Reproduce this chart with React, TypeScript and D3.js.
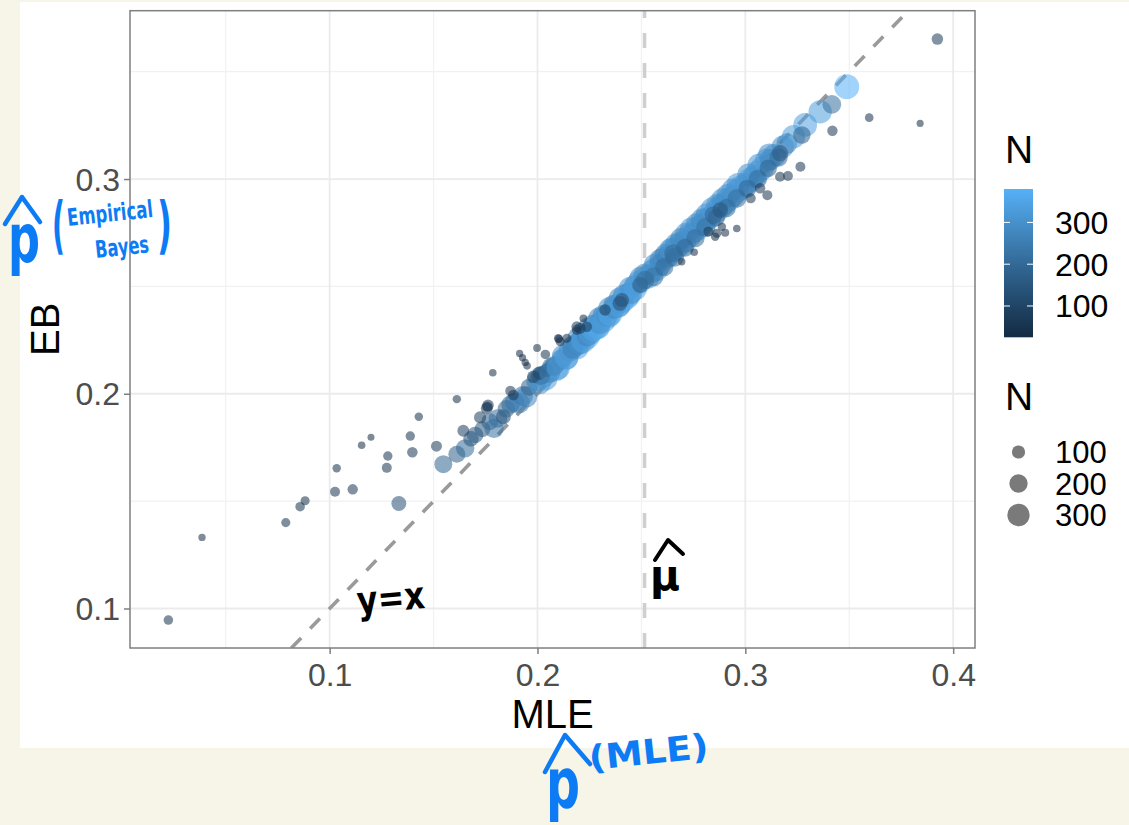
import React, { useEffect, useRef } from 'react';
import * as d3 from 'd3';

const W = 1129;
const H = 825;

// [MLE, EB, N]
// the thick blue band of well-sampled players
const bandPoints: [number, number, number][] = [
  [0.1547, 0.1672, 190], [0.1612, 0.1718, 170], [0.1652, 0.1746, 200], [0.1680, 0.1790, 140],
  [0.1700, 0.1808, 160], [0.1735, 0.1835, 150], [0.1770, 0.1870, 170], [0.1791, 0.1839, 220],
  [0.1810, 0.1885, 210], [0.1836, 0.1893, 130], [0.1850, 0.1930, 180], [0.1870, 0.1950, 200],
  [0.1890, 0.1960, 230], [0.1913, 0.1958, 260], [0.1930, 0.1990, 240], [0.1948, 0.1986, 270],
  [0.1960, 0.2030, 170], [0.1995, 0.2060, 250], [0.2010, 0.2050, 300], [0.2030, 0.2080, 280],
  [0.2040, 0.2070, 330], [0.2090, 0.2115, 350], [0.2140, 0.2165, 320], [0.2190, 0.2215, 340],
  [0.2240, 0.2265, 360], [0.2290, 0.2312, 330], [0.2340, 0.2362, 350], [0.2390, 0.2410, 330],
  [0.2440, 0.2462, 340],
  [0.2015, 0.2085, 220], [0.2065, 0.2125, 200], [0.2115, 0.2160, 240], [0.2165, 0.2225, 210],
  [0.2215, 0.2270, 230], [0.2265, 0.2320, 250], [0.2315, 0.2365, 260], [0.2365, 0.2415, 240],
  [0.2415, 0.2460, 270], [0.2465, 0.2505, 250],
  [0.2195, 0.2262, 260], [0.2245, 0.2305, 280], [0.2295, 0.2352, 270], [0.2345, 0.2398, 290],
  [0.2395, 0.2445, 280], [0.2445, 0.2492, 300], [0.2495, 0.2540, 290],
  [0.1980, 0.2079, 90], [0.2009, 0.2095, 100], [0.2045, 0.2110, 110],
  [0.2060, 0.2100, 260], [0.2080, 0.2130, 230], [0.2100, 0.2120, 330], [0.2122, 0.2176, 290],
  [0.2140, 0.2170, 340], [0.2157, 0.2204, 310], [0.2170, 0.2210, 260], [0.2190, 0.2230, 280],
  [0.2205, 0.2235, 300], [0.2220, 0.2245, 340], [0.2240, 0.2270, 270], [0.2253, 0.2281, 320],
  [0.2270, 0.2300, 350], [0.2290, 0.2310, 360], [0.2300, 0.2330, 290], [0.2320, 0.2340, 330],
  [0.2335, 0.2365, 300], [0.2350, 0.2370, 350], [0.2370, 0.2400, 280], [0.2390, 0.2410, 340],
  [0.2410, 0.2430, 320], [0.2430, 0.2450, 360], [0.2450, 0.2470, 300], [0.2470, 0.2490, 340],
  [0.2490, 0.2520, 330], [0.2530, 0.2545, 350], [0.2550, 0.2570, 310], [0.2570, 0.2580, 360],
  [0.2590, 0.2600, 290], [0.2610, 0.2630, 340], [0.2630, 0.2640, 300], [0.2650, 0.2670, 350],
  [0.2670, 0.2680, 320], [0.2690, 0.2700, 360], [0.2710, 0.2710, 300], [0.2730, 0.2735, 340],
  [0.2750, 0.2750, 280], [0.2770, 0.2770, 360], [0.2790, 0.2785, 310], [0.2810, 0.2810, 350],
  [0.2830, 0.2820, 300], [0.2860, 0.2850, 340], [0.2880, 0.2870, 360], [0.2900, 0.2885, 320],
  [0.2920, 0.2905, 350], [0.2940, 0.2920, 300], [0.2960, 0.2945, 340], [0.2980, 0.2960, 370],
  [0.3000, 0.2975, 320], [0.3023, 0.2995, 380], [0.3040, 0.3010, 300], [0.3060, 0.3030, 350],
  [0.3080, 0.3050, 340], [0.3103, 0.3088, 330], [0.3120, 0.3090, 270], [0.3140, 0.3110, 310],
  [0.3180, 0.3150, 300], [0.3200, 0.3165, 260], [0.3232, 0.3197, 330], [0.3288, 0.3252, 340],
  [0.3360, 0.3313, 330], [0.3416, 0.3348, 210], [0.3488, 0.3430, 380],
  [0.2515, 0.2555, 280], [0.2565, 0.2600, 300], [0.2615, 0.2650, 260], [0.2665, 0.2695, 290],
  [0.2715, 0.2745, 300], [0.2765, 0.2790, 280], [0.2815, 0.2835, 310], [0.2865, 0.2880, 290],
  [0.2915, 0.2925, 300], [0.2965, 0.2975, 320], [0.3015, 0.3020, 300], [0.3065, 0.3065, 310],
  [0.3115, 0.3115, 290],
  [0.2590, 0.2625, 270], [0.2640, 0.2672, 300], [0.2690, 0.2722, 280], [0.2740, 0.2768, 310],
  [0.2790, 0.2812, 290], [0.2840, 0.2860, 320], [0.2890, 0.2905, 300], [0.2940, 0.2950, 310],
  [0.2560, 0.2545, 220], [0.2610, 0.2590, 200], [0.2660, 0.2635, 210], [0.2710, 0.2680, 190],
  [0.2760, 0.2725, 200], [0.2810, 0.2775, 220], [0.2860, 0.2820, 180], [0.2910, 0.2865, 200],
  [0.2960, 0.2910, 210], [0.3010, 0.2955, 190], [0.3060, 0.3000, 200], [0.3110, 0.3050, 180],
  [0.3160, 0.3100, 200],
  [0.2406, 0.2436, 120], [0.2397, 0.2421, 130], [0.2494, 0.2506, 150], [0.2518, 0.2530, 200],
  [0.2654, 0.2654, 200], [0.2847, 0.2832, 190], [0.2879, 0.2856, 140], [0.3167, 0.3120, 160],
  [0.3272, 0.3205, 180],
];

// low-N players pulled toward the mean, just off the band
const shrunkPoints: [number, number, number][] = [
  [0.1785, 0.2098, 30], [0.1998, 0.2213, 32], [0.2038, 0.2183, 50], [0.1914, 0.2188, 27],
  [0.1928, 0.2168, 27], [0.1941, 0.2146, 28], [0.1950, 0.2130, 30], [0.2103, 0.2255, 38],
  [0.1870, 0.2013, 60], [0.1884, 0.1994, 65], [0.1762, 0.1946, 75], [0.1756, 0.1932, 80],
  [0.1724, 0.1890, 85], [0.1643, 0.1828, 80], [0.1759, 0.1940, 60], [0.2141, 0.2258, 45],
  [0.2189, 0.2297, 55], [0.2237, 0.2312, 60], [0.2100, 0.2258, 40], [0.2109, 0.2242, 45],
  [0.2221, 0.2351, 32], [0.2189, 0.2312, 65], [0.2205, 0.2305, 70], [0.2325, 0.2390, 75],
  [0.2754, 0.2659, 30], [0.2694, 0.2615, 28], [0.2887, 0.2778, 38], [0.2903, 0.2750, 35],
  [0.2855, 0.2731, 38], [0.2863, 0.2747, 45], [0.2959, 0.2770, 30], [0.2822, 0.2755, 55],
  [0.3106, 0.2925, 55], [0.3026, 0.2910, 55], [0.3071, 0.2957, 60], [0.3167, 0.3011, 55],
  [0.3205, 0.3014, 55], [0.3265, 0.3057, 55], [0.3419, 0.3225, 60],
];

// the scattered players far from the band
const farPoints: [number, number, number][] = [
  [0.0224, 0.0946, 50], [0.0386, 0.1331, 28], [0.0789, 0.1400, 45], [0.0858, 0.1474, 50],
  [0.0882, 0.1502, 45], [0.1026, 0.1544, 55], [0.1034, 0.1653, 38], [0.1111, 0.1555, 60],
  [0.1154, 0.1760, 30], [0.1199, 0.1797, 25], [0.1275, 0.1655, 55], [0.1280, 0.1710, 48],
  [0.1333, 0.1489, 130], [0.1388, 0.1803, 48], [0.1398, 0.1728, 62], [0.1429, 0.1893, 38],
  [0.1514, 0.1756, 68], [0.1612, 0.1975, 38], [0.3596, 0.3286, 40], [0.3841, 0.3259, 26],
  [0.3924, 0.3652, 75],
];

const xTicks = [0.1, 0.2, 0.3, 0.4];
const yTicks = [0.1, 0.2, 0.3];
const xMinor = [0.05, 0.15, 0.25, 0.35];
const yMinor = [0.15, 0.25, 0.35];
const legendTicks = [100, 200, 300];
const nRange = [25, 380];
const muHat = 0.2515;

const FONT = '"Liberation Sans", Arial, Helvetica, sans-serif';
const HAND = '"DejaVu Sans Condensed", "DejaVu Sans", sans-serif';

export default function App() {
  const ref = useRef<SVGSVGElement>(null);

  useEffect(() => {
    const svg = d3.select(ref.current);
    svg.selectAll('*').remove();

    const left = 130, right = 975, top = 10.7, bottom = 648;
    const x = d3.scaleLinear().domain([0.00395, 0.4105]).range([left, right]);
    const y = d3.scaleLinear().domain([0.0816, 0.3784]).range([bottom, top]);
    const colour = d3.scaleLinear<string>().domain(nRange).range(['#132B43', '#56B1F7']).interpolate(d3.interpolateLab);
    const size = d3.scaleSqrt().domain(nRange).range([3.5, 12.5]);

    // page background and the white sheet
    svg.append('rect').attr('width', W).attr('height', H).attr('fill', '#f7f4e8');
    svg.append('rect').attr('x', 20).attr('y', 2).attr('width', W - 20).attr('height', 746).attr('fill', '#fff');

    const defs = svg.append('defs');
    defs.append('clipPath').attr('id', 'panel')
      .append('rect').attr('x', left).attr('y', top).attr('width', right - left).attr('height', bottom - top);

    // grid
    const grid = svg.append('g');
    grid.selectAll('.xm').data(xMinor).enter().append('line')
      .attr('x1', d => x(d)).attr('x2', d => x(d)).attr('y1', top).attr('y2', bottom)
      .attr('stroke', '#f1f1f1').attr('stroke-width', 1.2);
    grid.selectAll('.ym').data(yMinor).enter().append('line')
      .attr('y1', d => y(d)).attr('y2', d => y(d)).attr('x1', left).attr('x2', right)
      .attr('stroke', '#f1f1f1').attr('stroke-width', 1.2);
    grid.selectAll('.xM').data(xTicks).enter().append('line')
      .attr('x1', d => x(d)).attr('x2', d => x(d)).attr('y1', top).attr('y2', bottom)
      .attr('stroke', '#ebebeb').attr('stroke-width', 1.8);
    grid.selectAll('.yM').data(yTicks).enter().append('line')
      .attr('y1', d => y(d)).attr('y2', d => y(d)).attr('x1', left).attr('x2', right)
      .attr('stroke', '#ebebeb').attr('stroke-width', 1.8);

    const plot = svg.append('g').attr('clip-path', 'url(#panel)');

    // mu-hat and y = x reference lines
    plot.append('line')
      .attr('x1', x(muHat)).attr('x2', x(muHat)).attr('y1', bottom).attr('y2', top)
      .attr('stroke', '#cfcfcf').attr('stroke-width', 3.6).attr('stroke-dasharray', '15 15');
    plot.append('line')
      .attr('x1', x(0.0816)).attr('y1', y(0.0816)).attr('x2', x(0.3784)).attr('y2', y(0.3784))
      .attr('stroke', '#9a9a9a').attr('stroke-width', 3.6).attr('stroke-dasharray', '14 13');

    const allPoints = [...bandPoints, ...shrunkPoints, ...farPoints];
    plot.selectAll('circle.pt').data(allPoints).enter().append('circle')
      .attr('class', 'pt')
      .attr('cx', d => x(d[0])).attr('cy', d => y(d[1])).attr('r', d => size(d[2]))
      .attr('fill', d => colour(d[2])).attr('fill-opacity', 0.55);

    // panel border
    svg.append('rect').attr('x', left).attr('y', top).attr('width', right - left).attr('height', bottom - top)
      .attr('fill', 'none').attr('stroke', '#7f7f7f').attr('stroke-width', 1.5);

    // axes
    const xAxis = svg.append('g').attr('transform', `translate(0,${bottom})`)
      .call(d3.axisBottom(x).tickValues(xTicks).tickSize(6).tickPadding(8).tickFormat(d3.format('.1f')));
    const yAxis = svg.append('g').attr('transform', `translate(${left},0)`)
      .call(d3.axisLeft(y).tickValues(yTicks).tickSize(6).tickPadding(8).tickFormat(d3.format('.1f')));
    [xAxis, yAxis].forEach(a => {
      a.select('.domain').remove();
      a.selectAll('line').attr('stroke', '#7f7f7f').attr('stroke-width', 1.5);
      a.selectAll('text').attr('fill', '#4d4d4d').style('font-family', FONT).style('font-size', '32px');
    });
    xAxis.selectAll('text').attr('dy', '0.71em').attr('y', 15);
    yAxis.selectAll('text').attr('x', -10).attr('dy', '0.35em');

    svg.append('text').attr('x', (left + right) / 2).attr('y', 728).attr('text-anchor', 'middle')
      .style('font-family', FONT).style('font-size', '40px').attr('fill', '#000').text('MLE');
    svg.append('text').attr('transform', `translate(59,${(top + bottom) / 2}) rotate(-90)`).attr('text-anchor', 'middle')
      .style('font-family', FONT).style('font-size', '40px').attr('fill', '#000').text('EB');

    // colour legend
    const cbTop = 189, cbBottom = 337.3, cbX = 1004, cbW = 29;
    const cb = d3.scaleLinear().domain(nRange).range([cbBottom, cbTop]);
    const grad = defs.append('linearGradient').attr('id', 'cbar').attr('x1', 0).attr('x2', 0).attr('y1', 1).attr('y2', 0);
    d3.range(0, 1.0001, 0.1).forEach(t => {
      grad.append('stop').attr('offset', t).attr('stop-color', colour(nRange[0] + t * (nRange[1] - nRange[0])));
    });
    svg.append('text').attr('x', cbX + 1).attr('y', 163).style('font-family', FONT).style('font-size', '39px').text('N');
    svg.append('rect').attr('x', cbX).attr('y', cbTop).attr('width', cbW).attr('height', cbBottom - cbTop).attr('fill', 'url(#cbar)');
    const cbt = svg.append('g').selectAll('g').data(legendTicks).enter().append('g');
    cbt.append('line').attr('x1', cbX).attr('x2', cbX + 6).attr('y1', d => cb(d)).attr('y2', d => cb(d)).attr('stroke', '#fff').attr('stroke-width', 1);
    cbt.append('line').attr('x1', cbX + cbW - 6).attr('x2', cbX + cbW).attr('y1', d => cb(d)).attr('y2', d => cb(d)).attr('stroke', '#fff').attr('stroke-width', 1);
    cbt.append('text').attr('x', 1055).attr('y', d => cb(d) + 11.5)
      .style('font-family', FONT).style('font-size', '32px').text(d => d);

    // size legend
    svg.append('text').attr('x', cbX + 1).attr('y', 410).style('font-family', FONT).style('font-size', '39px').text('N');
    const sizeY = [452, 483.5, 515];
    const sl = svg.append('g').selectAll('g').data(legendTicks).enter().append('g');
    sl.append('circle').attr('cx', 1018.5).attr('cy', (d, i) => sizeY[i]).attr('r', d => size(d))
      .attr('fill', '#000').attr('fill-opacity', 0.52);
    sl.append('text').attr('x', 1055).attr('y', (d, i) => sizeY[i] + 11)
      .style('font-family', FONT).style('font-size', '31px').text(d => d);

    // handwritten notes
    const blue = '#0d7cf4';
    const hat = (pts: [number, number][], c: string, w: number) =>
      svg.append('path').attr('d', d3.line()(pts)).attr('fill', 'none').attr('stroke', c)
        .attr('stroke-width', w).attr('stroke-linecap', 'round').attr('stroke-linejoin', 'round');
    const hand = (t: string, px: number, py: number, fs: number, c: string, len?: number, rot = 0) => {
      const el = svg.append('text').attr('x', px).attr('y', py)
        .attr('transform', rot ? `rotate(${rot},${px},${py})` : null)
        .style('font-family', HAND).style('font-size', `${fs}px`).style('font-weight', 'bold').attr('fill', c).text(t);
      if (len) el.attr('textLength', len).attr('lengthAdjust', 'spacingAndGlyphs');
      return el;
    };
    hat([[5, 224], [22, 197], [40, 222]], blue, 4.5);
    hand('p', 8, 262, 68, blue, 32);
    hand('(', 52, 246, 62, blue, 13);
    hand('Empirical', 68, 226, 24, blue, 86, -6);
    hand('Bayes', 96, 258, 24, blue, 54, -6);
    hand(')', 157, 246, 62, blue, 15);

    hat([[545, 772], [565, 735], [590, 764]], blue, 4.5);
    hand('p', 546, 808, 70, blue, 34);
    hand('(MLE)', 590, 770, 34, blue, 120, -6);

    hand('y=x', 358, 614, 38, '#000', 68, -5);
    hat([[655, 560], [668, 540], [683, 554]], '#000', 4);
    hand('μ', 650, 590, 42, '#000', 30);
  }, []);

  return (
    <svg ref={ref} width={W} height={H} viewBox={`0 0 ${W} ${H}`}
      style={{ position: 'absolute', left: 0, top: 0, display: 'block' }} />
  );
}
